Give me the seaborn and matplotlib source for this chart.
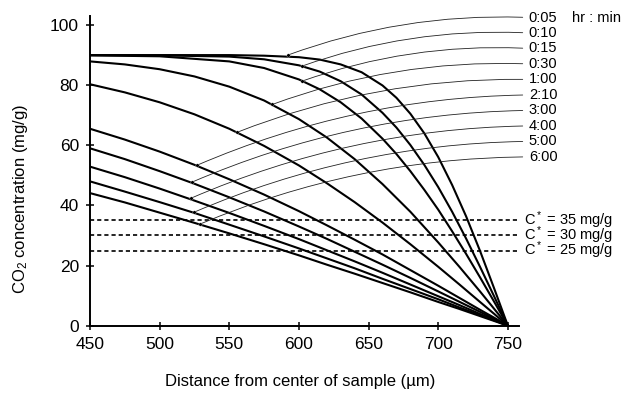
import numpy as np
import pandas as pd
import matplotlib
matplotlib.use("Agg")
import matplotlib.pyplot as plt
import seaborn as sns

# ---- data ----
# the three early (steep) profiles are read on a finer distance grid
distance_fine = [450, 500, 550, 575, 600, 615, 630, 645, 660, 670, 680, 690, 700, 710, 720, 730, 740, 750]
distance = [450, 475, 500, 525, 550, 575, 600, 620, 640, 660, 680, 700, 715, 730, 740, 750]

times = ["0:05", "0:10", "0:15", "0:30", "1:00", "2:10", "3:00", "4:00", "5:00", "6:00"]

c_0_05 = [90.0, 90.0, 90.0, 89.8, 89.3, 88.5, 86.9, 84.3, 79.9, 75.8, 70.5, 64.0, 56.1, 46.8, 36.4, 24.9, 12.6, 0]
c_0_10 = [90.0, 89.9, 89.5, 88.6, 86.6, 84.5, 81.3, 76.9, 70.8, 65.9, 60.1, 53.5, 46.1, 37.9, 29.0, 19.6, 9.9, 0]
c_0_15 = [89.9, 89.6, 87.9, 85.7, 81.9, 78.6, 74.3, 68.9, 62.2, 57.1, 51.4, 45.2, 38.6, 31.4, 23.9, 16.1, 8.1, 0]
c_0_30 = [87.9, 86.9, 85.3, 82.9, 79.5, 74.9, 68.7, 62.6, 55.4, 47.1, 37.9, 27.7, 19.7, 11.4, 5.7, 0]
c_1_00 = [80.3, 77.6, 74.3, 70.3, 65.5, 59.8, 53.3, 47.4, 41.1, 34.3, 27.1, 19.6, 13.8, 7.9, 4.0, 0]
c_2_10 = [65.5, 61.9, 57.9, 53.5, 48.7, 43.6, 38.1, 33.4, 28.6, 23.7, 18.5, 13.3, 9.3, 5.3, 2.7, 0]
c_3_00 = [59.0, 55.4, 51.4, 47.2, 42.7, 38.0, 33.0, 28.9, 24.6, 20.3, 15.9, 11.4, 8.0, 4.6, 2.3, 0]
c_4_00 = [52.9, 49.4, 45.6, 41.6, 37.5, 33.2, 28.8, 25.1, 21.4, 17.6, 13.7, 9.8, 6.9, 3.9, 2.0, 0]
c_5_00 = [48.0, 44.6, 41.1, 37.5, 33.6, 29.7, 25.7, 22.4, 19.1, 15.6, 12.2, 8.8, 6.1, 3.5, 1.8, 0]
c_6_00 = [44.1, 41.0, 37.6, 34.2, 30.7, 27.1, 23.4, 20.3, 17.3, 14.2, 11.1, 7.9, 5.6, 3.2, 1.6, 0]

profiles = [c_0_05, c_0_10, c_0_15, c_0_30, c_1_00, c_2_10, c_3_00, c_4_00, c_5_00, c_6_00]
grids = [distance_fine] * 3 + [distance] * 7

# where each label's leader line meets its curve
leader_dist = [592, 602, 602, 581, 555.5, 527, 523, 522.5, 525, 529]
leader_conc = [90.0, 86.3, 81.3, 73.6, 64.3, 53.4, 47.7, 42.4, 37.8, 33.8]

c_star = [35, 30, 25]

rows = []
for t, grid, prof in zip(times, grids, profiles):
    for d, c in zip(grid, prof):
        rows.append({"time": t, "distance": d, "conc": c})
df = pd.DataFrame(rows)

# ---- plot ----
sns.set_style("ticks")
plt.rcParams["font.family"] = ["Liberation Sans", "DejaVu Sans"]
plt.rcParams["mathtext.fontset"] = "custom"
plt.rcParams["mathtext.rm"] = "Liberation Sans"
plt.rcParams["mathtext.it"] = "Liberation Sans:italic"
plt.rcParams["text.color"] = "black"
plt.rcParams["axes.labelcolor"] = "black"

fig = plt.figure(figsize=(6.38, 3.94), dpi=100)
ax = fig.add_axes([90 / 638, 68.3 / 394, 429 / 638, 309.7 / 394])

sns.lineplot(data=df, x="distance", y="conc", hue="time", units="time",
             estimator=None, sort=False, palette=["black"] * len(times),
             linewidth=1.5, legend=False, ax=ax)

ax.hlines(c_star, 450, 756.5, colors="black", linewidth=1.2,
          linestyles=(0, (2.5, 1.8)))
for c in c_star:
    ax.text(761.5, c, f"C$^*$ = {c} mg/g", fontsize=10.5, va="center", ha="left")

# leader lines from the time labels to the curves
label_y = 102.5 - 5.15 * np.arange(len(times))
for t, d, c, ly in zip(times, leader_dist, leader_conc, label_y):
    ax.annotate(t, xy=(d, c), xytext=(765, ly), fontsize=10.5, ha="left", va="center",
                annotation_clip=False,
                arrowprops=dict(arrowstyle="-", color="#222222", lw=0.6,
                                connectionstyle="arc3,rad=0.1", relpos=(0, 0.5),
                                shrinkA=2, shrinkB=0))
ax.text(796, label_y[0], "hr : min", fontsize=10.5, va="center", ha="left")
sns.scatterplot(x=leader_dist, y=leader_conc, color="black", s=6, ax=ax, zorder=5)

ax.set_xlim(450, 758)
ax.set_ylim(0, 103)
ax.set_xticks([450, 500, 550, 600, 650, 700, 750])
ax.set_yticks([0, 20, 40, 60, 80, 100])
ax.tick_params(axis="both", direction="inout", length=6, width=1.1, labelsize=12.5,
               color="black", labelcolor="black")
ax.tick_params(axis="x", pad=5)
ax.tick_params(axis="y", pad=5)
for side in ["top", "right"]:
    ax.spines[side].set_visible(False)
for side in ["left", "bottom"]:
    ax.spines[side].set_linewidth(1.4)
    ax.spines[side].set_color("black")

ax.set_xlabel("Distance from center of sample (\u00b5m)", fontsize=12)
ax.set_ylabel("CO$_2$ concentration (mg/g)", fontsize=12)
ax.xaxis.set_label_coords(0.49, -0.155)
ax.yaxis.set_label_coords(-0.14, 0.41)

fig.savefig("out.png", dpi=100)
